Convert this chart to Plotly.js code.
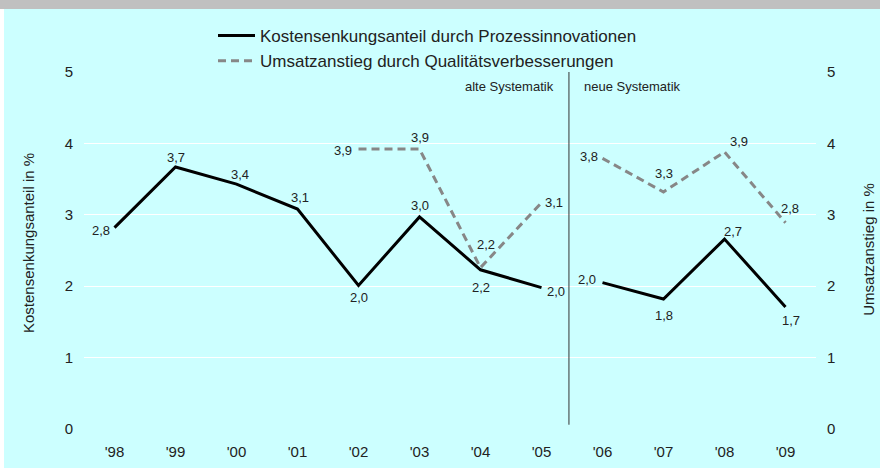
<!DOCTYPE html>
<html>
<head>
<meta charset="utf-8">
<script src="https://cdn.plot.ly/plotly-3.0.1.min.js"></script>
<style>
  body { margin: 0; }
  #chart { width: 880px; height: 474px; }
</style>
</head>
<body>
<div id="chart"></div>
<script>
const years = ["'98", "'99", "'00", "'01", "'02", "'03", "'04", "'05", "'06", "'07", "'08", "'09"];
const kosten = [2.82, 3.67, 3.43, 3.08, 2.01, 2.97, 2.23, 1.98, 2.05, 1.82, 2.66, 1.71];
const kostenLabels = ['2,8', '3,7', '3,4', '3,1', '2,0', '3,0', '2,2', '2,0', '2,0', '1,8', '2,7', '1,7'];
const umsatz = [null, null, null, null, 3.92, 3.92, 2.26, 3.17, 3.79, 3.32, 3.88, 2.89];
const umsatzLabels = ['', '', '', '', '3,9', '3,9', '2,2', '3,1', '3,8', '3,3', '3,9', '2,8'];

// label offsets in px (dx, dy up)
const kostenOff = [[-14, -3], [0, 9], [3, 10], [2, 12], [0, -12], [0, 11], [0, -18], [14, -4], [-16, 3], [0, -16], [8, 8], [5, -14]];
const umsatzOff = [null, null, null, null, [-16, -1], [0, 12], [5, 23], [12, 0], [-14, 2], [0, 18], [14, 10], [4, 14]];

const split = 8; // alte / neue Systematik
const fam = 'Liberation Sans, Arial, sans-serif';

const kLine = {color: '#000000', width: 3};
const uLine = {color: '#878787', width: 3, dash: '8px,5px'};

const data = [
    {x: years.slice(0, split), y: kosten.slice(0, split), mode: 'lines', line: kLine,
     name: 'Kostensenkungsanteil durch Prozessinnovationen', legendgroup: 'k', hoverinfo: 'skip'},
    {x: years.slice(split), y: kosten.slice(split), mode: 'lines', line: kLine,
     legendgroup: 'k', showlegend: false, hoverinfo: 'skip'},
    {x: years.slice(0, split), y: umsatz.slice(0, split), mode: 'lines', line: uLine, yaxis: 'y2',
     name: 'Umsatzanstieg durch Qualitätsverbesserungen', legendgroup: 'u', hoverinfo: 'skip'},
    {x: years.slice(split), y: umsatz.slice(split), mode: 'lines', line: uLine, yaxis: 'y2',
     legendgroup: 'u', showlegend: false, hoverinfo: 'skip'}
];

const labelFont = {family: fam, size: 13, color: '#222'};
const annotations = [];
years.forEach((yr, i) => {
    annotations.push({x: i, y: kosten[i], xref: 'x', yref: 'y', text: kostenLabels[i], showarrow: false,
        xshift: kostenOff[i][0], yshift: kostenOff[i][1], font: labelFont});
    if (umsatz[i] !== null) {
        annotations.push({x: i, y: umsatz[i], xref: 'x', yref: 'y2', text: umsatzLabels[i], showarrow: false,
            xshift: umsatzOff[i][0], yshift: umsatzOff[i][1], font: labelFont});
    }
});
annotations.push(
    {x: 7.45, y: 4.8, xref: 'x', yref: 'y', text: 'alte Systematik', showarrow: false,
     xanchor: 'right', xshift: -13, font: labelFont},
    {x: 7.45, y: 4.8, xref: 'x', yref: 'y', text: 'neue Systematik', showarrow: false,
     xanchor: 'left', xshift: 13, font: labelFont},
    {x: (28 - 84) / 732, y: 0.521, xref: 'paper', yref: 'paper', text: 'Kostensenkungsanteil in %', showarrow: false,
     xanchor: 'center', yanchor: 'middle', textangle: -90, font: {family: fam, size: 15, color: '#222'}},
    {x: (869 - 84) / 732, y: 0.505, xref: 'paper', yref: 'paper', text: 'Umsatzanstieg in %', showarrow: false,
     xanchor: 'center', yanchor: 'middle', textangle: -90, font: {family: fam, size: 15, color: '#222'}}
);

const shapes = [
    {type: 'rect', xref: 'paper', yref: 'paper', x0: -0.2, x1: 1.2, y0: 1.1765, y1: 1.25,
     fillcolor: '#C0C0C0', line: {width: 0}, layer: 'below'},
    {type: 'rect', xref: 'paper', yref: 'paper', x0: -0.2, x1: -0.1093, y0: -0.2, y1: 1.1765,
     fillcolor: '#FFFFFF', line: {width: 0}, layer: 'below'},
    {type: 'rect', xref: 'paper', yref: 'paper', x0: -0.2, x1: 1.2, y0: -0.2, y1: -0.1092,
     fillcolor: '#FFFFFF', line: {width: 0}, layer: 'below'},
    {type: 'line', xref: 'x', yref: 'y', x0: 7.45, x1: 7.45, y0: 0.06, y1: 5,
     line: {color: '#333333', width: 1}}
];

const layout = {
    width: 880,
    height: 474,
    margin: {l: 84, r: 64, t: 72, b: 45},
    paper_bgcolor: '#CCFFFF',
    plot_bgcolor: 'rgba(0,0,0,0)',
    font: {family: fam, size: 15, color: '#222'},
    showlegend: true,
    legend: {x: (213 - 84) / 732, y: (429 - 18) / 357, xanchor: 'left', yanchor: 'top',
             bgcolor: 'rgba(0,0,0,0)', font: {family: fam, size: 17, color: '#222'}, itemwidth: 37, tracegroupgap: 0},
    xaxis: {type: 'category', range: [-0.5, 11.5], showgrid: false, zeroline: false, showline: false,
            ticks: '', ticklabelstandoff: 12, fixedrange: true},
    yaxis: {range: [0, 5], dtick: 1, gridcolor: '#FFFFFF', gridwidth: 1, zeroline: false, showline: false,
            ticks: '', ticklabelstandoff: 10, fixedrange: true},
    yaxis2: {range: [0, 5], dtick: 1, overlaying: 'y', side: 'right', showgrid: false, zeroline: false,
             showline: false, ticks: '', ticklabelstandoff: 10, fixedrange: true},
    annotations: annotations,
    shapes: shapes
};

Plotly.newPlot('chart', data, layout, {displayModeBar: false, staticPlot: true});
</script>
</body>
</html>
